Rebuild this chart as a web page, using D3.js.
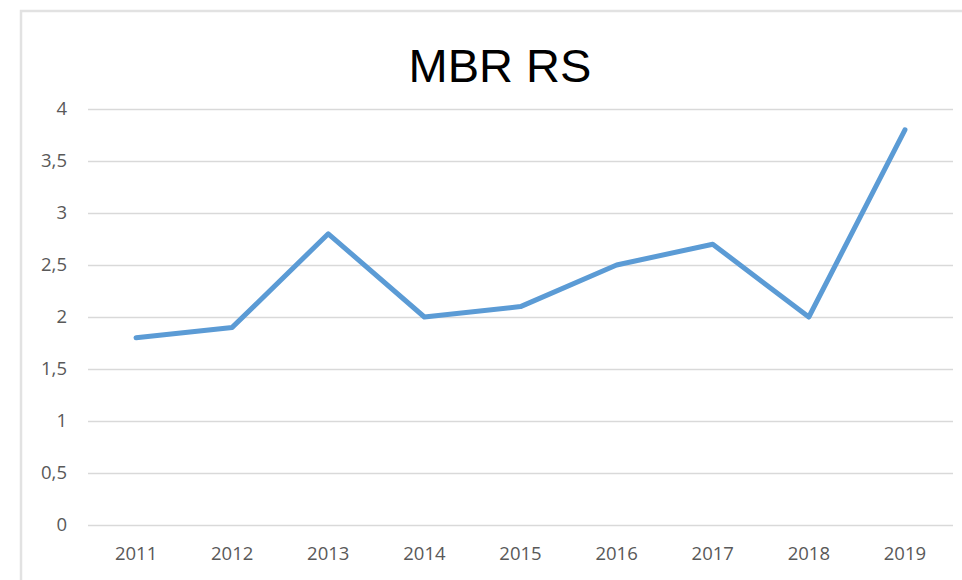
<!DOCTYPE html>
<html lang="en">
<head>
<meta charset="UTF-8">
<title>MBR RS</title>
<script src="https://cdnjs.cloudflare.com/ajax/libs/d3/7.8.5/d3.min.js"></script>
<style>
    body { margin: 0; padding: 0; background: #fff; }
    svg { display: block; }
</style>
</head>
<body>
<div id="chart"></div>
<script>
    // data
    const years = ['2011', '2012', '2013', '2014', '2015', '2016', '2017', '2018', '2019'];
    const mbrValues = [1.8, 1.9, 2.8, 2.0, 2.1, 2.5, 2.7, 2.0, 3.8];
    const yTicks = [0, 0.5, 1, 1.5, 2, 2.5, 3, 3.5, 4];

    const width = 962, height = 580;
    const margin = { top: 109, right: 9, bottom: 55, left: 88 };

    const svg = d3.select('#chart').append('svg')
        .attr('width', width)
        .attr('height', height);

    // chart frame (runs off the right and bottom edges)
    svg.append('rect')
        .attr('x', 21).attr('y', 11)
        .attr('width', 1000).attr('height', 1000)
        .attr('fill', 'none')
        .attr('stroke', '#e2e2e2')
        .attr('stroke-width', 2.5);

    const x = d3.scaleBand()
        .domain(years)
        .range([margin.left, width - margin.right]);

    const y = d3.scaleLinear()
        .domain([0, 4])
        .range([height - margin.bottom, margin.top]);

    const labelStyle = sel => sel
        .attr('fill', '#595959')
        .style('font-family', '"Open Sans", sans-serif')
        .style('font-size', '18.5px');

    // gridlines + y labels
    const yAxis = svg.append('g')
        .attr('transform', `translate(${margin.left},0)`)
        .call(d3.axisLeft(y)
            .tickValues(yTicks)
            .tickSize(-(width - margin.left - margin.right))
            .tickPadding(21)
            .tickFormat(d => String(d).replace('.', ',')));
    yAxis.select('.domain').remove();
    yAxis.selectAll('.tick line').attr('stroke', '#d9d9d9').attr('stroke-width', 1.5);
    yAxis.selectAll('.tick text').call(labelStyle);

    // x labels
    const xAxis = svg.append('g')
        .attr('transform', `translate(0,${height - margin.bottom})`)
        .call(d3.axisBottom(x).tickSize(0).tickPadding(22));
    xAxis.select('.domain').remove();
    xAxis.selectAll('.tick text').call(labelStyle);

    // line
    const line = d3.line()
        .x((d, i) => x(years[i]) + x.bandwidth() / 2)
        .y(d => y(d));

    svg.append('path')
        .datum(mbrValues)
        .attr('d', line)
        .attr('fill', 'none')
        .attr('stroke', '#5b9bd5')
        .attr('stroke-width', 5)
        .attr('stroke-linejoin', 'round')
        .attr('stroke-linecap', 'round');

    // title
    svg.append('text')
        .attr('x', 500)
        .attr('y', 82)
        .attr('text-anchor', 'middle')
        .style('font-family', '"Liberation Sans", Arial, sans-serif')
        .style('font-size', '47px')
        .attr('fill', '#000')
        .text('MBR RS');
</script>
</body>
</html>
